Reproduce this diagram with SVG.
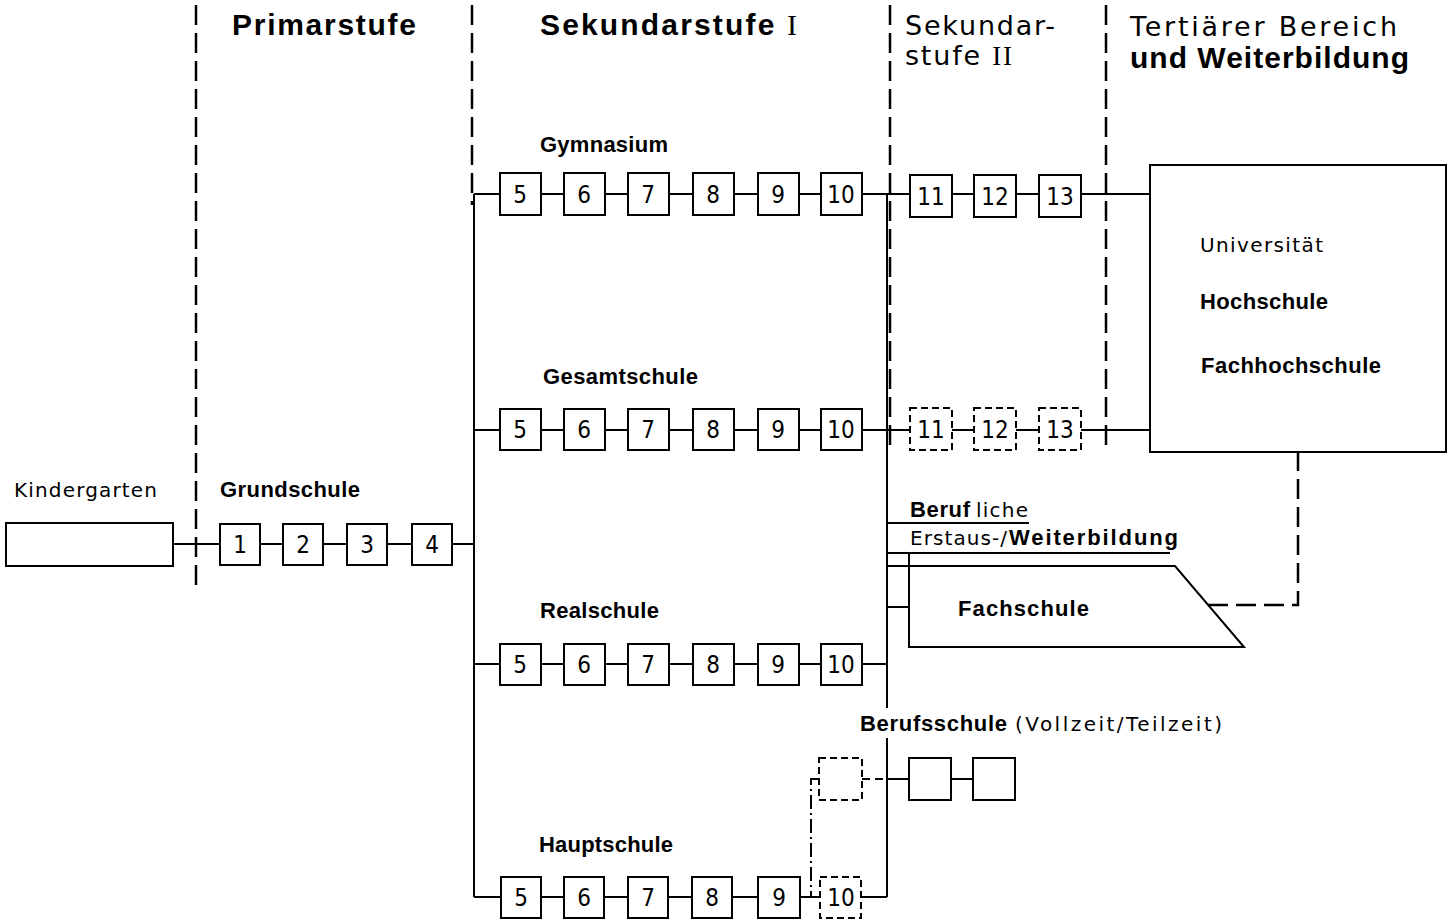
<svg xmlns="http://www.w3.org/2000/svg" width="1449" height="920" viewBox="0 0 1449 920">
<style>
.b{fill:#fff;stroke:#000;stroke-width:2}
.bd{fill:#fff;stroke:#000;stroke-width:2;stroke-dasharray:7 4}
.l{fill:none;stroke:#000;stroke-width:2}
.sec{fill:none;stroke:#000;stroke-width:2.5;stroke-dasharray:20 8}
.dd{fill:none;stroke:#000;stroke-width:2;stroke-dasharray:8 5}
.dot{fill:none;stroke:#000;stroke-width:2;stroke-dasharray:14 4 2 4}
.n{font-family:"DejaVu Sans Condensed","DejaVu Sans",sans-serif;font-size:24px;fill:#000;text-anchor:middle}
.r{font-family:"DejaVu Sans",sans-serif;font-size:20px;fill:#000}
.bo{font-family:"Liberation Sans",Arial,sans-serif;font-weight:bold;font-size:22px;fill:#000}
.h{font-family:"Liberation Sans",Arial,sans-serif;font-weight:bold;font-size:30px;fill:#000}
.hr{font-family:"DejaVu Sans",sans-serif;font-size:27px;fill:#000}
.rn{font-family:"Liberation Serif",serif}
</style>
<rect width="1449" height="920" fill="#fff"/>

<g id="sections">
<line class="sec" x1="196" y1="5" x2="196" y2="590"/>
<line class="sec" x1="472" y1="5" x2="472" y2="205"/>
<line class="sec" x1="890" y1="5" x2="890" y2="452"/>
<line class="sec" x1="1106" y1="5" x2="1106" y2="452"/>
</g>

<g id="headers">
<text class="h" x="232" y="35" textLength="184" lengthAdjust="spacing">Primarstufe</text>
<text class="h" x="540" y="35" textLength="257" lengthAdjust="spacing">Sekundarstufe <tspan class="rn" font-weight="normal">I</tspan></text>
<text class="hr" x="905" y="35" textLength="150" lengthAdjust="spacing">Sekundar-</text>
<text class="hr" x="905" y="65" textLength="107" lengthAdjust="spacing">stufe <tspan class="rn">II</tspan></text>
<text class="hr" x="1130" y="36" textLength="267" lengthAdjust="spacing">Tertiärer Bereich</text>
<text class="h" x="1130" y="68" textLength="279" lengthAdjust="spacing">und Weiterbildung</text>
</g>

<g id="connectors">
<line class="l" x1="474" y1="194" x2="474" y2="897"/>
<line class="l" x1="887" y1="194" x2="887" y2="708"/>
<line class="l" x1="887" y1="738" x2="887" y2="897"/>
<line class="l" x1="173" y1="544" x2="474" y2="544"/>
<line class="l" x1="474" y1="194" x2="1150" y2="194"/>
<line class="l" x1="474" y1="430" x2="1150" y2="430"/>
<line class="l" x1="474" y1="664" x2="887" y2="664"/>
<line class="l" x1="474" y1="897" x2="887" y2="897"/>
<line class="l" x1="887" y1="523" x2="1029" y2="523"/>
<line class="l" x1="887" y1="553" x2="1170" y2="553"/>
<line class="l" x1="887" y1="607" x2="909" y2="607" stroke-width="3"/>
<line class="dd" x1="862" y1="779" x2="887" y2="779"/>
<line class="l" x1="887" y1="779" x2="1015" y2="779"/>
<polyline class="dot" points="819,779 811,779 811,897"/>
<polyline class="sec" points="1208,605 1298,605 1298,452" stroke-dasharray="10 6"/>
</g>

<g id="kindergarten">
<text class="r" x="14" y="497" textLength="143" lengthAdjust="spacing">Kindergarten</text>
<rect class="b" x="6" y="523" width="167" height="43"/>
</g>

<g id="grundschule">
<text class="bo" x="220" y="497" textLength="140" lengthAdjust="spacing">Grundschule</text>
<rect class="b" x="220" y="524" width="40" height="41"/><text class="n" x="240" y="553">1</text>
<rect class="b" x="283" y="524" width="40" height="41"/><text class="n" x="303" y="553">2</text>
<rect class="b" x="347" y="524" width="40" height="41"/><text class="n" x="367" y="553">3</text>
<rect class="b" x="412" y="524" width="40" height="41"/><text class="n" x="432" y="553">4</text>
</g>

<g id="gymnasium">
<text class="bo" x="540" y="152" textLength="128" lengthAdjust="spacing">Gymnasium</text>
<rect class="b" x="500" y="173" width="41" height="42"/><text class="n" x="520" y="203">5</text>
<rect class="b" x="564" y="173" width="41" height="42"/><text class="n" x="584" y="203">6</text>
<rect class="b" x="628" y="173" width="41" height="42"/><text class="n" x="648" y="203">7</text>
<rect class="b" x="693" y="173" width="41" height="42"/><text class="n" x="713" y="203">8</text>
<rect class="b" x="758" y="173" width="41" height="42"/><text class="n" x="778" y="203">9</text>
<rect class="b" x="821" y="173" width="41" height="42"/><text class="n" x="841" y="203">10</text>
<rect class="b" x="910" y="175" width="42" height="42"/><text class="n" x="931" y="205">11</text>
<rect class="b" x="974" y="175" width="42" height="42"/><text class="n" x="995" y="205">12</text>
<rect class="b" x="1039" y="175" width="42" height="42"/><text class="n" x="1060" y="205">13</text>
</g>

<g id="gesamtschule">
<text class="bo" x="543" y="384" textLength="155" lengthAdjust="spacing">Gesamtschule</text>
<rect class="b" x="500" y="409" width="41" height="41"/><text class="n" x="520" y="438">5</text>
<rect class="b" x="564" y="409" width="41" height="41"/><text class="n" x="584" y="438">6</text>
<rect class="b" x="628" y="409" width="41" height="41"/><text class="n" x="648" y="438">7</text>
<rect class="b" x="693" y="409" width="41" height="41"/><text class="n" x="713" y="438">8</text>
<rect class="b" x="758" y="409" width="41" height="41"/><text class="n" x="778" y="438">9</text>
<rect class="b" x="821" y="409" width="41" height="41"/><text class="n" x="841" y="438">10</text>
<rect class="bd" x="910" y="408" width="42" height="42"/><text class="n" x="931" y="438">11</text>
<rect class="bd" x="974" y="408" width="42" height="42"/><text class="n" x="995" y="438">12</text>
<rect class="bd" x="1039" y="408" width="42" height="42"/><text class="n" x="1060" y="438">13</text>
</g>

<g id="realschule">
<text class="bo" x="540" y="618" textLength="119" lengthAdjust="spacing">Realschule</text>
<rect class="b" x="500" y="644" width="41" height="41"/><text class="n" x="520" y="673">5</text>
<rect class="b" x="564" y="644" width="41" height="41"/><text class="n" x="584" y="673">6</text>
<rect class="b" x="628" y="644" width="41" height="41"/><text class="n" x="648" y="673">7</text>
<rect class="b" x="693" y="644" width="41" height="41"/><text class="n" x="713" y="673">8</text>
<rect class="b" x="758" y="644" width="41" height="41"/><text class="n" x="778" y="673">9</text>
<rect class="b" x="821" y="644" width="41" height="41"/><text class="n" x="841" y="673">10</text>
</g>

<g id="hauptschule">
<text class="bo" x="539" y="852" textLength="134" lengthAdjust="spacing">Hauptschule</text>
<rect class="b" x="501" y="877" width="40" height="41"/><text class="n" x="521" y="906">5</text>
<rect class="b" x="564" y="877" width="40" height="41"/><text class="n" x="584" y="906">6</text>
<rect class="b" x="628" y="877" width="40" height="41"/><text class="n" x="648" y="906">7</text>
<rect class="b" x="692" y="877" width="40" height="41"/><text class="n" x="712" y="906">8</text>
<rect class="b" x="758" y="877" width="42" height="41"/><text class="n" x="779" y="906">9</text>
<rect class="bd" x="820" y="877" width="41" height="41"/><text class="n" x="841" y="906">10</text>
</g>

<g id="berufsschule">
<text class="bo" x="860" y="731" textLength="147" lengthAdjust="spacing">Berufsschule</text>
<text class="r" x="1015" y="731" textLength="207" lengthAdjust="spacing">(Vollzeit/Teilzeit)</text>
<rect class="bd" x="819" y="758" width="43" height="42"/>
<rect class="b" x="909" y="758" width="42" height="42"/>
<rect class="b" x="973" y="758" width="42" height="42"/>
</g>

<g id="berufliche">
<text class="bo" x="910" y="517" textLength="60" lengthAdjust="spacing">Beruf</text>
<text class="r" x="976" y="517" textLength="52" lengthAdjust="spacing">liche</text>
<text class="r" x="910" y="545" textLength="97" lengthAdjust="spacing">Erstaus-/</text>
<text class="bo" x="1009" y="545" textLength="169" lengthAdjust="spacing">Weiterbildung</text>
</g>

<g id="fachschule">
<polyline class="l" points="887,566 1175,566 1244,647 909,647 909,553"/>
<text class="bo" x="958" y="616" textLength="131" lengthAdjust="spacing">Fachschule</text>
</g>

<g id="hochschule">
<rect class="b" x="1150" y="165" width="296" height="287"/>
<text class="r" x="1200" y="252" textLength="123" lengthAdjust="spacing">Universität</text>
<text class="bo" x="1200" y="309" textLength="128" lengthAdjust="spacing">Hochschule</text>
<text class="bo" x="1201" y="373" textLength="180" lengthAdjust="spacing">Fachhochschule</text>
</g>
</svg>
